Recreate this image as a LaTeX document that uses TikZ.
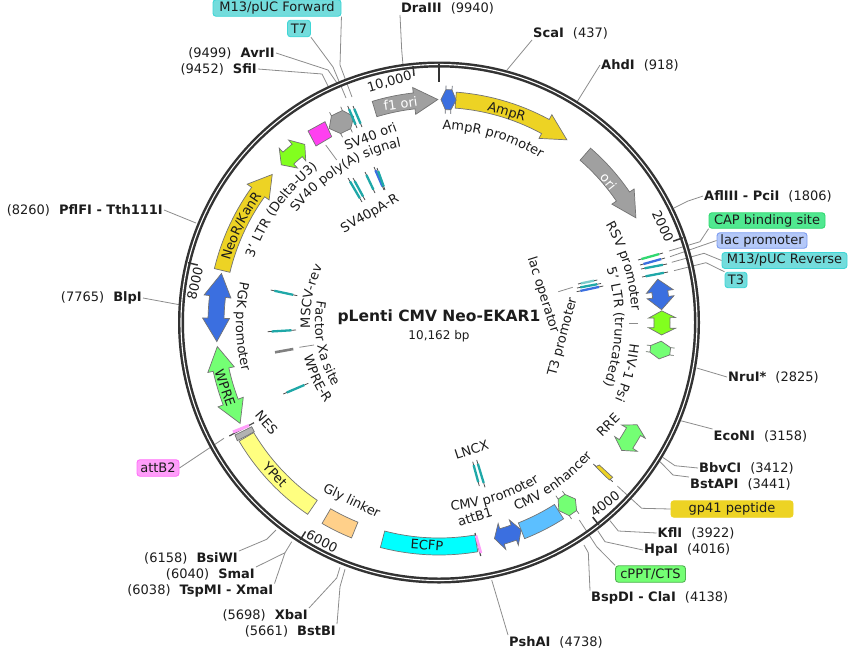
\documentclass[tikz,border=0pt]{standalone}
\usepackage{fontspec}
\setmainfont{DejaVu Sans}
\usetikzlibrary{calc,decorations.text}
\definecolor{cYel}{HTML}{EDD324}
\definecolor{cGray}{HTML}{A0A0A0}
\definecolor{cBlue}{HTML}{3B6FE0}
\definecolor{cLime}{HTML}{82FF1E}
\definecolor{cMint}{HTML}{74FF74}
\definecolor{cTeal}{HTML}{1FA8A8}
\definecolor{cCyanBox}{HTML}{73DCDC}
\definecolor{cCyanEdge}{HTML}{3FD6D6}
\definecolor{cCapFill}{HTML}{50E890}
\definecolor{cCapEdge}{HTML}{30D870}
\definecolor{cLacFill}{HTML}{B4C8F8}
\definecolor{cLacEdge}{HTML}{7C9CF0}
\definecolor{cPink}{HTML}{FF9EFA}
\definecolor{cPinkEdge}{HTML}{FF70F8}
\definecolor{cMag}{HTML}{FF40F0}
\definecolor{cYPet}{HTML}{FFFF80}
\definecolor{cGly}{HTML}{FFD08A}
\definecolor{cEcfp}{HTML}{00FFFF}
\definecolor{cEnh}{HTML}{5CBFFF}
\definecolor{cInk}{HTML}{1C1C1C}
\newcommand{\fs}{\fontsize{13}{15}\selectfont}
\tikzset{
  declare function={px(\a,\r)=439+\r*sin(\a); py(\a,\r)=322.5-\r*cos(\a);},
  lbl/.style={inner sep=1pt,font=\fs,text=cInk},
  lead/.style={draw=black!45,line width=0.8pt},
  feat/.style={draw=black!55,line width=0.7pt,line join=miter},
  tick/.style={draw=black!80,line width=1.5pt},
  tagbox/.style={rounded corners=3pt,inner sep=0pt,font=\fs,text=cInk,line width=0.9pt,anchor=center},
  oline/.style={draw=black!70,line width=0.8pt},
}
\newcommand{\featarrow}[4]{% fill, tail, headbase, tip (angles)
  \filldraw[feat,fill=#1] plot[domain=#2:#3,samples=16] ({px(\x,231)},{py(\x,231)})
   -- ({px(#3,236.5)},{py(#3,236.5)}) -- ({px(#4,223)},{py(#4,223)}) -- ({px(#3,209.5)},{py(#3,209.5)}) -- ({px(#3,215)},{py(#3,215)})
   -- plot[domain=#3:#2,samples=16] ({px(\x,215)},{py(\x,215)}) -- cycle;}
\newcommand{\featdouble}[4]{% fill, t1, t2, h
  \pgfmathsetmacro{\tA}{#2+#4}\pgfmathsetmacro{\tB}{#3-#4}
  \filldraw[feat,fill=#1] ({px(#2,223)},{py(#2,223)}) -- ({px(\tA,236.5)},{py(\tA,236.5)}) -- ({px(\tA,231)},{py(\tA,231)})
   -- plot[domain=\tA:\tB,samples=10] ({px(\x,231)},{py(\x,231)})
   -- ({px(\tB,236.5)},{py(\tB,236.5)}) -- ({px(#3,223)},{py(#3,223)}) -- ({px(\tB,209.5)},{py(\tB,209.5)}) -- ({px(\tB,215)},{py(\tB,215)})
   -- plot[domain=\tB:\tA,samples=10] ({px(\x,215)},{py(\x,215)})
   -- ({px(\tA,209.5)},{py(\tA,209.5)}) -- cycle;}
\newcommand{\feathex}[4]{% fill, t1, t2, h : hexagon with thin spikes
  \pgfmathsetmacro{\tA}{#2+#4}\pgfmathsetmacro{\tB}{#3-#4}
  \filldraw[feat,fill=#1] ({px(#2,223)},{py(#2,223)})
   -- ({px(\tA,233)},{py(\tA,233)}) -- ({px(\tA,237)},{py(\tA,237)}) -- ({px(\tA,233)},{py(\tA,233)})
   -- ({px(\tB,233)},{py(\tB,233)}) -- ({px(\tB,237)},{py(\tB,237)}) -- ({px(\tB,233)},{py(\tB,233)})
   -- ({px(#3,223)},{py(#3,223)})
   -- ({px(\tB,213)},{py(\tB,213)}) -- ({px(\tB,209)},{py(\tB,209)}) -- ({px(\tB,213)},{py(\tB,213)})
   -- ({px(\tA,213)},{py(\tA,213)}) -- ({px(\tA,209)},{py(\tA,209)}) -- ({px(\tA,213)},{py(\tA,213)}) -- cycle;}
\newcommand{\featseg}[3]{%
  \filldraw[feat,fill=#1] plot[domain=#2:#3,samples=20] ({px(\x,232.5)},{py(\x,232.5)})
   -- plot[domain=#3:#2,samples=20] ({px(\x,215.5)},{py(\x,215.5)}) -- cycle;}
\newcommand{\ctext}[4]{% r, t1, t2, text
  \pgfmathsetmacro{\tA}{#2-10*sign(#3-#2)}\pgfmathsetmacro{\tB}{#3+10*sign(#3-#2)}
  \path[decorate,decoration={text along path,text align=center,
     text={|\fs\color{cInk}|#4}}] plot[domain=\tA:\tB,samples=60] ({px(\x,#1)},{py(\x,#1)});}
\newcommand{\radtick}[1]{\draw[tick] ({px(#1,258)},{py(#1,258)}) -- ({px(#1,248)},{py(#1,248)});}
\newcommand{\oligo}[3]{% a, b, colour
  \draw[oline] (#1) -- (#2);
  \draw[#3,line width=2.3pt] ($(#1)!0.14!(#2)$) -- ($(#1)!0.84!(#2)$);}
\begin{document}
\begin{tikzpicture}[x=1pt,y=-1pt]
\useasboundingbox (0,0) rectangle (848,651);
% ---- restriction labels
\node[lbl,anchor=west] (dra) at (400,8) {\textbf{DraIII}\hspace{0.7em}(9940)};
\node[lbl,anchor=west] (sca) at (532,33) {\textbf{ScaI}\hspace{0.7em}(437)};
\node[lbl,anchor=west] (ahd) at (600,65) {\textbf{AhdI}\hspace{0.7em}(918)};
\node[lbl,anchor=west] (afl) at (703,196) {\textbf{AflIII - PciI}\hspace{0.7em}(1806)};
\node[lbl,anchor=west] (nru) at (727,377) {\textbf{NruI*}\hspace{0.7em}(2825)};
\node[lbl,anchor=west] (eco) at (712.5,436) {\textbf{EcoNI}\hspace{0.7em}(3158)};
\node[lbl,anchor=west] (bbv) at (698,468) {\textbf{BbvCI}\hspace{0.7em}(3412)};
\node[lbl,anchor=west] (bst) at (689,484) {\textbf{BstAPI}\hspace{0.7em}(3441)};
\node[lbl,anchor=west] (kfl) at (656.5,533) {\textbf{KflI}\hspace{0.7em}(3922)};
\node[lbl,anchor=west] (hpa) at (643,550) {\textbf{HpaI}\hspace{0.7em}(4016)};
\node[lbl,anchor=west] (bsp) at (590,598) {\textbf{BspDI - ClaI}\hspace{0.7em}(4138)};
\node[lbl,anchor=west] (psh) at (508,642) {\textbf{PshAI}\hspace{0.7em}(4738)};
\node[lbl,anchor=east] (pfl) at (164,210) {(8260)\hspace{0.7em}\textbf{PflFI - Tth111I}};
\node[lbl,anchor=east] (blp) at (143,298) {(7765)\hspace{0.7em}\textbf{BlpI}};
\node[lbl,anchor=east] (avr) at (276,53) {(9499)\hspace{0.7em}\textbf{AvrII}};
\node[lbl,anchor=east] (sfi) at (258,69) {(9452)\hspace{0.7em}\textbf{SfiI}};
\node[lbl,anchor=east] (bsi) at (239,558) {(6158)\hspace{0.7em}\textbf{BsiWI}};
\node[lbl,anchor=east] (sma) at (256,574) {(6040)\hspace{0.7em}\textbf{SmaI}};
\node[lbl,anchor=east] (tsp) at (274.5,591) {(6038)\hspace{0.7em}\textbf{TspMI - XmaI}};
\node[lbl,anchor=east] (xba) at (309,615) {(5698)\hspace{0.7em}\textbf{XbaI}};
\node[lbl,anchor=east] (bbi) at (337,631) {(5661)\hspace{0.7em}\textbf{BstBI}};
% ---- tag boxes
\node[tagbox,fill=cCyanBox,draw=cCyanEdge,minimum width=128pt,minimum height=16.5pt] (mf) at (277,8) {M13/pUC Forward};
\node[tagbox,fill=cCyanBox,draw=cCyanEdge,minimum width=23pt,minimum height=16.5pt] (t7) at (299,28.5) {T7};
\node[tagbox,fill=cCapFill,draw=cCapEdge,minimum width=116pt,minimum height=15.5pt] (cap) at (767,220.5) {CAP binding site};
\node[tagbox,fill=cLacFill,draw=cLacEdge,minimum width=90pt,minimum height=15.5pt] (lac) at (762,240.5) {lac promoter};
\node[tagbox,fill=cCyanBox,draw=cCyanEdge,minimum width=125pt,minimum height=16pt] (mr) at (784.5,260.5) {M13/pUC Reverse};
\node[tagbox,fill=cCyanBox,draw=cCyanEdge,minimum width=22pt,minimum height=15.5pt] (t3) at (736,280) {T3};
\node[tagbox,fill=cYel,draw=cYel,minimum width=122pt,minimum height=16.5pt] (gp) at (732,509) {gp41 peptide};
\node[tagbox,fill=cMint,draw=cMint!70!black,minimum width=70pt,minimum height=16.5pt] (cpp) at (650.5,574) {cPPT/CTS};
\node[tagbox,fill=cPink,draw=cPinkEdge,minimum width=42pt,minimum height=16.5pt] (ab2) at (158,468) {attB2};
% ---- leaders
\draw[lead] (dra.south west) -- (401.7,50) -- (403,65);
\draw[lead] (sca.south west) -- (507,70);
\draw[lead] (ahd.west) -- (577,102);
\draw[lead] (afl.west) -- (688,201) -- (674,208);
\draw[lead] (nru.west) -- (696.7,368);
\draw[lead] (eco.north west) -- (680.7,420.7);
\draw[lead] (bbv.west) -- (675,465.7) -- (662.7,457.3);
\draw[lead] (bst.north west) -- (673,475) -- (660,461.7);
\draw[lead] (kfl.west) -- (618.3,531) -- (610,520.7);
\draw[lead] (hpa.west) -- (605,541.7) -- (597.7,530.7);
\draw[lead] (bsp.north west) -- (588.3,552.7) -- (584,545);
\draw[lead] (psh.north west) -- (491.7,580);
\draw[lead] (pfl.east) -- (196,223);
\draw[lead] (blp.east) -- (181,305);
\draw[lead] (avr.east) -- (328,70) -- (337,83);
\draw[lead] (sfi.east) -- (322,74) -- (328,86);
\draw[lead] (bsi.north east) -- (266.7,539.3) -- (276,530);
\draw[lead] (sma.north east) -- (285,552.7) -- (291.7,541.7);
\draw[lead] (tsp.north east) -- (285,552.7);
\draw[lead] (xba.north east) -- (336.7,578) -- (340,567.3);
\draw[lead] (bbi.north east) -- (340,586.7) -- (345,569.3);
\draw[lead] (mf.south east) -- (340,65) -- (352,97);
\draw[lead] (t7.south east) -- (333,67) -- (346,98);
\draw[lead] (cap.south west) -- (700,241.7) -- (669,251);
\draw[lead] (lac.west) -- (670,256.7);
\draw[lead] (mr.west) -- (704,253.3) -- (671.7,262.3);
\draw[lead] (t3.north west) -- (706,262.7) -- (674,270.7);
\draw[lead] (gp.west) -- (641.7,508.3) -- (617.3,486);
\draw[lead] (cpp.north west) -- (596.7,546.7) -- (579.3,520);
\draw[lead] (ab2.east) -- (224,438.3);
% ---- ring
\draw[black!80,line width=6pt] (439,322.5) circle[radius=258];
\draw[white,line width=1.1pt] (439,322.5) circle[radius=258];
\draw[black!80,line width=2.6pt] ({px(0,259)},{py(0,259)}) -- ({px(0,241)},{py(0,241)});
\radtick{-5.78}
\radtick{70.85}
\radtick{141.7}
\radtick{212.55}
\radtick{283.4}
\node[lbl,rotate=16] (n10k) at (389.5,82) {10,000};
\node[lbl,rotate=-65] (n2k) at (663,226) {2000};
\node[lbl,rotate=38] (n4k) at (605,504) {4000};
\node[lbl,rotate=-28] (n6k) at (322,541) {6000};
\node[lbl,rotate=77] (n8k) at (195,283) {8000};
% ---- arrows
\featarrow{cGray}{-16.8}{-6.4}{-0.3}
\featarrow{cYel}{4.3}{28.5}{35}
\featarrow{cGray}{41}{55.6}{62}
\featarrow{cYel}{-76.5}{-54.2}{-48.4}
\feathex{cBlue}{0.5}{4.4}{1.2}
\featdouble{cBlue}{78.8}{86.7}{3.2}
\featdouble{cLime}{87}{93.2}{1.8}
\feathex{cMint}{94.8}{99.4}{1.4}
\featdouble{cMint}{117.3}{125}{2}
\feathex{cMint}{142.3}{147.5}{1.5}
\featdouble{cBlue}{158.4}{165.6}{2}
\feathex{cGray}{-29.5}{-22.5}{2}
\featdouble{cLime}{-45}{-37}{2.5}
\featdouble{cBlue}{-94.9}{-77.3}{6}
\featdouble{cMint}{-116.9}{-96.2}{6}
\featseg{cYPet}{-145.6}{-120.7}
\featseg{cGly}{-157.9}{-149.8}
\featseg{cEcfp}{-189.6}{-165.4}
\featseg{cEnh}{147.6}{158.4}
% small pieces
\filldraw[feat,fill=cMag] (308,131) -- (325,121.7) -- (331.7,136.7) -- (316,146) -- cycle;
\draw[lead] (325.7,145) -- (336.7,160);
\filldraw[feat,fill=black!30] (235,435) -- (251.7,426.7) -- (254.3,431.7) -- (237.3,440.7) -- cycle;
\draw[oline,line width=1.2pt] (229.3,436) -- (254,422.7);
\draw[cPink,line width=3pt] (233,432) -- (249,425.5);
\draw[oline,line width=1.2pt] (475,533) -- (480.7,556);
\draw[cPink,line width=2.6pt] (476,535.5) -- (481,553);
\draw[oline] (593.3,464) -- (612.7,481.7);
\filldraw[feat,fill=cYel] (595.7,466.7) -- (599.3,465) -- (612.7,477.3) -- (609.3,480) -- cycle;
% oligos
\oligo{347.7,106}{357,128}{cTeal}
\oligo{353,106}{362,127}{cTeal}
\oligo{348,178}{362,202}{cTeal}
\oligo{353,178}{365,200}{cTeal}
\oligo{365,172}{375,193}{cTeal}
\oligo{374,167}{384,190}{cBlue}
\oligo{377,168}{385,190}{cTeal}
\oligo{472.7,461.7}{479.3,486}{cTeal}
\oligo{476.7,460}{485,487.3}{cTeal}
\oligo{270.7,290}{297.3,295.7}{cTeal}
\oligo{267.7,331.7}{296,330}{cTeal}
\oligo{283.3,394}{308.3,383.3}{cTeal}
\oligo{638,260}{663,253}{cCapEdge}
\oligo{640,265}{665,258}{cBlue}
\oligo{641,269}{667,264}{cTeal}
\oligo{642,277}{668,272}{cTeal}
\oligo{578,284}{597.3,280}{cTeal!60}
\oligo{577,288}{601,283.5}{cTeal}
\oligo{576.7,291.7}{603.3,286}{cBlue}
\draw[black!50,line width=2.6pt] (275,352.3) -- (293.3,349);
\draw[lead] (299.3,347.3) -- (314,345);
\draw[lead] (558.3,291.7) -- (572.7,287.3);
\draw[lead] (638,323) -- (629,323);
% ---- feature text
\node[lbl,text=white,rotate=8] (tf1) at (400.5,103.5) {f1 ori};
\node[lbl,text=white,rotate=-51] (tori) at (608.5,181.5) {ori};
\node[lbl,rotate=-17] (tamp) at (506.5,112.5) {AmpR};
\node[lbl,rotate=-71] (twp) at (225,388) {WPRE};
\node[lbl,rotate=-47] (typ) at (275,475) {YPet};
\node[lbl,rotate=-4] (tec) at (427,545) {ECFP};
\node[lbl,rotate=21] (ts4) at (370.5,136) {SV40 ori};
\node[lbl,rotate=30] (tsp4) at (370,214) {SV40pA-R};
\node[lbl,rotate=75] (tt3) at (563,337) {T3 promoter};
\node[lbl,rotate=-72.5] (tlo) at (543,295) {lac operator};
\node[lbl,rotate=-49] (tne) at (266.5,422.5) {NES};
\node[lbl,rotate=-26] (tgl) at (351.5,501.5) {Gly linker};
\node[lbl,rotate=17] (tb1) at (475,517) {attB1};
\node[lbl,rotate=45] (trr) at (608,425) {RRE};
\node[lbl,rotate=18] (tln) at (471.5,450) {LNCX};
\ctext{193}{0.7}{32}{AmpR promoter}
\ctext{193}{59.5}{86.8}{RSV promoter}
\ctext{176}{71}{112}{5' LTR (truncated)}
\ctext{192}{95}{115}{HIV-1 Psi}
\ctext{180}{-54}{-10.5}{SV40 poly(A) signal}
\ctext{196}{-72}{-37}{3' LTR (Delta-U3)}
\ctext{218}{-75}{-53}{NeoR/KanR}
\ctext{203}{-78}{-104.5}{PGK promoter}
\ctext{188}{177}{147}{CMV promoter}
\ctext{203.5}{158}{130.7}{CMV enhancer}
\ctext{129}{-93}{-64}{MSCV-rev}
\ctext{124}{-78}{-123}{Factor Xa site}
\ctext{139.5}{-104}{-125.5}{WPRE-R}
% ---- title
\node[inner sep=1pt,font=\fontsize{15.5}{18}\selectfont\bfseries,text=cInk] (title) at (439,317) {pLenti CMV Neo-EKAR1};
\node[inner sep=1pt,font=\fontsize{12}{14}\selectfont,text=cInk] (sub) at (439,336) {10,162 bp};
\end{tikzpicture}
\end{document}
